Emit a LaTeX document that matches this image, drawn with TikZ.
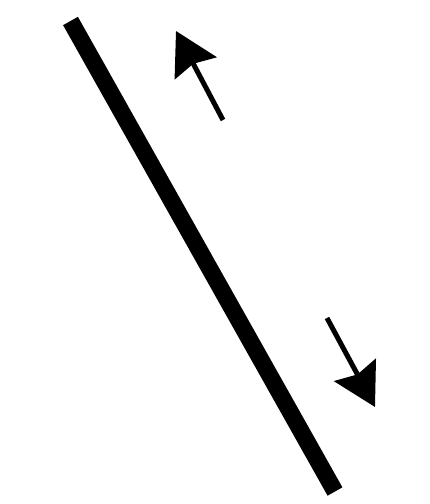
\documentclass[tikz,border=0pt]{standalone}
\usepackage{tikz}
\usetikzlibrary{arrows.meta}

\tikzset{
  wall/.style={line width=17pt},
  flow/.style={line width=5pt,-{Stealth[length=42pt,width=47pt,inset=5pt]}}
}

\begin{document}
\begin{tikzpicture}[x=1pt,y=-1pt]
\useasboundingbox (0,0) rectangle (430,504);
\coordinate (walltop) at (70.5,21);
\coordinate (wallbot) at (335,491.5);
\draw[wall] (walltop) -- (wallbot);
\coordinate (uptail) at (223,120);
\coordinate (uptip) at (176,31);
\draw[flow] (uptail) -- (uptip);
\coordinate (downtail) at (327,318);
\coordinate (downtip) at (375,407);
\draw[flow] (downtail) -- (downtip);
\end{tikzpicture}
\end{document}
